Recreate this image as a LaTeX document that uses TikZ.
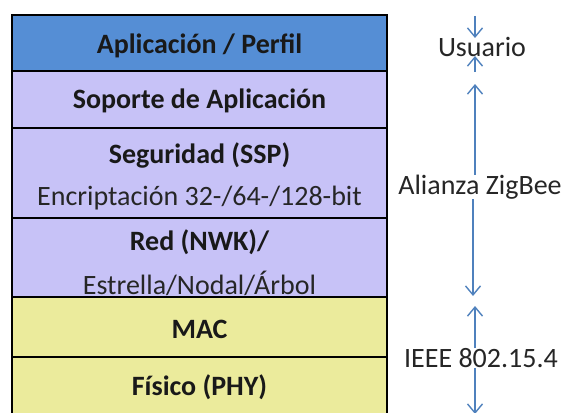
\documentclass[tikz,border=0pt]{standalone}
\usepackage{fontspec}
\setmainfont{Carlito}
\usepackage{xcolor}
\usepackage{tikz}
\usetikzlibrary{arrows.meta}
\usetikzlibrary{positioning}
\definecolor{appblue}{HTML}{558ED5}
\definecolor{zbviolet}{HTML}{C7C2F7}
\definecolor{ieeeyellow}{HTML}{EBEB9C}
\definecolor{arrowblue}{HTML}{4F81BD}
\tikzset{
    layer/.style = {rectangle, draw=black, line width=2pt, minimum width=375pt, inner sep=0pt, align=center},
    app_layer/.style = {layer, fill=appblue},
    zb_layer/.style = {layer, fill=zbviolet},
    ieee_layer/.style = {layer, fill=ieeeyellow},
    title/.style = {font=\fontsize{28}{32}\selectfont\bfseries, inner sep=0pt, text=black!90},
    subtitle/.style = {font=\fontsize{28}{32}\selectfont, inner sep=0pt, text=black!85},
    side/.style = {font=\fontsize{28}{32}\selectfont, inner sep=0pt, text=black!85}
}

\begin{document}
\begin{tikzpicture}
            [x=1pt, y=-1pt, >={Straight Barb[length=9pt,width=15pt]},
            span/.style={->, draw=arrowblue, line width=1.4pt}]

            \clip (0,0) rectangle (569,412);

            % stack of layers
            \node (app) [app_layer, minimum height=56pt] at (199.5,43) {};
            \node (aps) [zb_layer, minimum height=57pt] at (199.5,99.5) {};
            \node (ssp) [zb_layer, minimum height=90pt] at (199.5,173) {};
            \node (nwk) [zb_layer, minimum height=79pt] at (199.5,257.5) {};
            \node (mac) [ieee_layer, minimum height=60pt] at (199.5,327) {};
            \node (phy) [ieee_layer, minimum height=80pt] at (199.5,397) {};

            \node (app_t) [title] at (199.5,46) {Aplicación / Perfil};
            \node (aps_t) [title] at (199.5,101) {Soporte de Aplicación};
            \node (ssp_t) [title] at (199.5,155) {Seguridad (SSP)};
            \node (ssp_s) [subtitle] at (199.5,198) {Encriptación 32-/64-/128-bit};
            \node (nwk_t) [title] at (199.5,242) {Red (NWK)/};
            \node (nwk_s) [subtitle] at (199.5,283) {Estrella/Nodal/Árbol};
            \node (mac_t) [title] at (199.5,329) {MAC};
            \node (phy_t) [title] at (199.5,387) {Físico (PHY)};

            % labels on the right
            \node (user) [side] at (482,47) {Usuario};
            \node (zigbee) [side] at (480,187) {Alianza ZigBee};
            \node (ieee) [side] at (481,358) {IEEE 802.15.4};

            \coordinate (u_top) at (475,16);
            \coordinate (u_tip) at (475,38);
            \coordinate (u_low) at (475,72);
            \coordinate (u_up) at (475,56);
            \coordinate (z_top) at (475,84);
            \coordinate (z_bot) at (473,296);
            \coordinate (i_top) at (475,306);
            \coordinate (i_bot) at (475,414);

            \draw [span] (u_top) -- (u_tip);
            \draw [span] (u_low) -- (u_up);
            \draw [span] (zigbee.north -| z_top) -- (z_top);
            \draw [span] (zigbee.south -| z_bot) -- (z_bot);
            \draw [span] (ieee.north -| i_top) -- (i_top);
            \draw [span] (ieee.south -| i_bot) -- (i_bot);
        \end{tikzpicture}
\end{document}
